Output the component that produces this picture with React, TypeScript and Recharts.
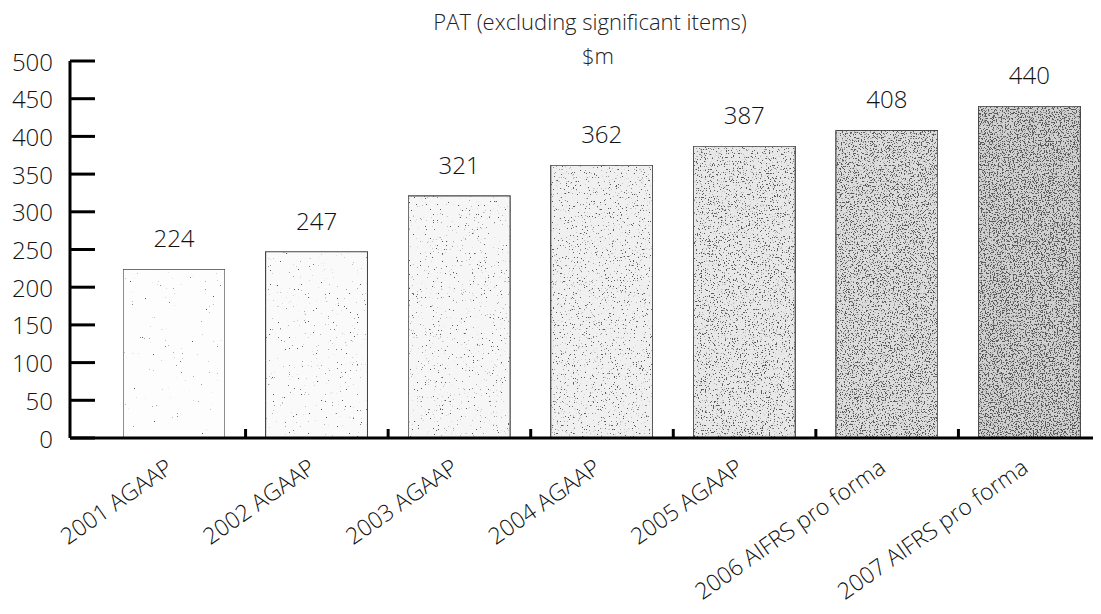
import React from 'react';
import { BarChart, Bar, XAxis, YAxis, Cell, LabelList } from 'recharts';

const categories = [
	'2001 AGAAP',
	'2002 AGAAP',
	'2003 AGAAP',
	'2004 AGAAP',
	'2005 AGAAP',
	'2006 AIFRS pro forma',
	'2007 AIFRS pro forma',
];
const patValues = [224, 247, 321, 362, 387, 408, 440];
const yTicks = [0, 50, 100, 150, 200, 250, 300, 350, 400, 450, 500];

// print-like stipple: base tone + noise threshold, darker to the right
const barFills = ['#fdfdfd', '#fafafa', '#f6f6f6', '#f0f0f0', '#e8e8e8', '#dcdcdc', '#d0d0d0'];
const stippleCut = [0.77, 0.73, 0.7, 0.665, 0.61, 0.56, 0.525];

const font = '"Open Sans", sans-serif';

const chartData = categories.map((name, i) => ({ name, pat: patValues[i] }));

const YTick = (props: any) => {
	const { x, y, payload } = props;
	return (
		<g>
			<line x1={x} x2={x + 25} y1={y} y2={y} stroke='#000' strokeWidth={3} />
			<text
				x={x - 17}
				y={y}
				textAnchor='end'
				dominantBaseline='central'
				fontSize={24}
				fontWeight={300}
				fontFamily={font}
				fill='#111'
			>
				{payload.value}
			</text>
		</g>
	);
};

const XTick = (props: any) => {
	const { x, y, payload, index } = props;
	const half = payload.offset ?? 71;
	return (
		<g>
			{index < categories.length - 1 && (
				<line x1={x + half} x2={x + half} y1={y} y2={y - 9} stroke='#000' strokeWidth={3} />
			)}
			<text
				transform={`translate(${x},${y + 33}) rotate(-35)`}
				textAnchor='end'
				fontSize={23}
				fontWeight={300}
				fontFamily={font}
				fill='#111'
			>
				{payload.value}
			</text>
		</g>
	);
};

const App = () => {
	return (
		<div style={{ position: 'relative', margin: -8, width: 1101, height: 614, background: '#fff' }}>
			<svg width={0} height={0} style={{ position: 'absolute' }}>
				<defs>
					{stippleCut.map((cut, i) => (
						<filter key={i} id={`stip${i}`} x='0' y='0' width='1' height='1'>
							<feTurbulence type='fractalNoise' baseFrequency='0.75' numOctaves={3} seed={i + 2} result='n' />
							<feColorMatrix
								in='n'
								type='matrix'
								values={`0 0 0 0 0.1  0 0 0 0 0.1  0 0 0 0 0.1  14 0 0 0 ${-14 * cut}`}
								result='dots'
							/>
							<feComposite in='dots' in2='SourceAlpha' operator='in' result='clipped' />
							<feMerge>
								<feMergeNode in='SourceGraphic' />
								<feMergeNode in='clipped' />
							</feMerge>
						</filter>
					))}
				</defs>
			</svg>
			<div
				style={{
					position: 'absolute',
					left: 390,
					top: 4,
					width: 400,
					textAlign: 'center',
					fontFamily: font,
					fontSize: 22,
					fontWeight: 300,
					lineHeight: '34px',
					color: '#222',
					zIndex: 2,
				}}
			>
				PAT (excluding significant items)
				<br />
				<span style={{ marginLeft: 16 }}>$m</span>
			</div>
			<BarChart
				width={1101}
				height={614}
				data={chartData}
				margin={{ top: 61, right: 0, left: 0, bottom: 0 }}
			>
				<XAxis
					dataKey='name'
					height={176}
					padding={{ left: 33, right: 0 }}
					axisLine={{ stroke: '#000', strokeWidth: 3 }}
					tickLine={false}
					tickSize={0}
					tickMargin={0}
					interval={0}
					tick={<XTick />}
				/>
				<YAxis
					width={70}
					domain={[0, 500]}
					ticks={yTicks}
					interval={0}
					axisLine={{ stroke: '#000', strokeWidth: 3 }}
					tickLine={false}
					tickSize={0}
					tickMargin={0}
					tick={<YTick />}
				/>
				<Bar dataKey='pat' barSize={102} stroke='#444' strokeWidth={1.2} isAnimationActive={false}>
					{chartData.map((d, i) => (
						<Cell key={d.name} fill={barFills[i]} filter={`url(#stip${i})`} />
					))}
					<LabelList
						dataKey='pat'
						position='top'
						offset={22}
						fontSize={24}
						fontWeight={300}
						fontFamily={font}
						fill='#111'
					/>
				</Bar>
			</BarChart>
		</div>
	);
};

export default App;
